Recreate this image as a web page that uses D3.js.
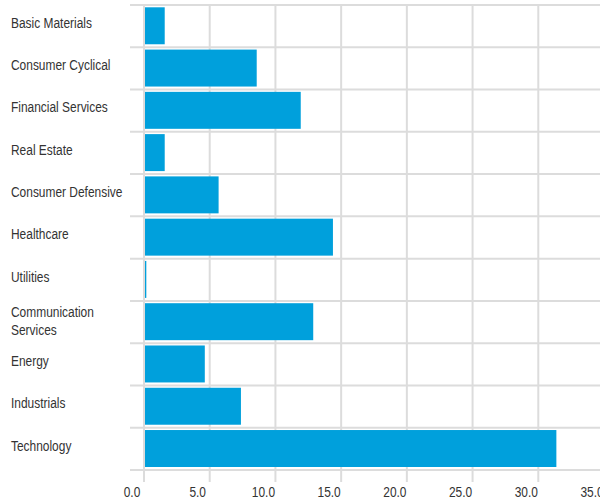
<!DOCTYPE html>
<html>
<head>
<meta charset="utf-8">
<script src="https://cdn.jsdelivr.net/npm/d3@7"></script>
<style>
  body { margin: 0; background: #fff; }
  text { font-family: 'Liberation Sans', Arial, sans-serif; fill: #333; }
</style>
</head>
<body>
<div id="chart"></div>
<script>
const sectors = ['Basic Materials', 'Consumer Cyclical', 'Financial Services', 'Real Estate',
    'Consumer Defensive', 'Healthcare', 'Utilities', 'Communication Services',
    'Energy', 'Industrials', 'Technology'];
const weights = [1.5, 8.5, 11.85, 1.5, 5.6, 14.3, 0.1, 12.8, 4.55, 7.3, 31.3];
const ticks = [0, 5, 10, 15, 20, 25, 30, 35];

const W = 600, H = 500;
const gridColor = '#dcdcdc';
const barColor = '#00a0dc';
const fontSize = 15.5;
const narrow = 0.77; // squeeze Liberation Sans to look like a narrow face

const svg = d3.select('#chart')
    .append('svg')
    .attr('width', W)
    .attr('height', H);

const x = d3.scaleLinear()
    .domain([0, 35])
    .range([145, 605]);

const y = d3.scaleBand()
    .domain(sectors)
    .range([5, 470]);

// vertical grid
svg.append('g')
    .selectAll('line')
    .data(ticks)
    .enter()
    .append('line')
    .attr('x1', (d) => x(d) - 1)
    .attr('x2', (d) => x(d) - 1)
    .attr('y1', 5)
    .attr('y2', 482)
    .attr('stroke', gridColor)
    .attr('stroke-width', 2);

// horizontal grid at band edges
const edges = sectors.map((d) => y(d)).concat([y.range()[1]]);
svg.append('g')
    .selectAll('line')
    .data(edges)
    .enter()
    .append('line')
    .attr('x1', 130)
    .attr('x2', W)
    .attr('y1', (d) => d)
    .attr('y2', (d) => d)
    .attr('stroke', gridColor)
    .attr('stroke-width', 2);

// bars
svg.append('g')
    .selectAll('rect')
    .data(sectors)
    .enter()
    .append('rect')
    .attr('x', x(0))
    .attr('y', (d) => y(d) + 2.3)
    .attr('width', (d, i) => Math.max(1, x(weights[i]) - x(0)))
    .attr('height', y.bandwidth() - 5.3)
    .attr('fill', barColor);

// category labels (wrap long ones)
const labels = svg.append('g')
    .selectAll('text')
    .data(sectors)
    .enter()
    .append('text')
    .style('font-size', fontSize + 'px');

labels.each(function (d) {
    const t = d3.select(this);
    const mid = y(d) + y.bandwidth() / 2;
    t.text(d);
    if (this.getComputedTextLength() * narrow > 125) {
        const words = d.split(' ');
        t.text(null);
        t.attr('transform', `translate(11, ${mid}) scale(${narrow}, 1)`);
        t.append('tspan').attr('x', 0).attr('y', -4.6).text(words[0]);
        t.append('tspan').attr('x', 0).attr('y', 12.7).text(words.slice(1).join(' '));
    } else {
        t.attr('transform', `translate(11, ${mid + 1.8}) scale(${narrow}, 1)`);
    }
});

// x tick labels
svg.append('g')
    .selectAll('text')
    .data(ticks)
    .enter()
    .append('text')
    .attr('transform', (d) => `translate(${x(d) - 13}, 497) scale(${narrow}, 1)`)
    .attr('text-anchor', 'middle')
    .style('font-size', fontSize + 'px')
    .text((d) => d3.format('.1f')(d));
</script>
</body>
</html>
